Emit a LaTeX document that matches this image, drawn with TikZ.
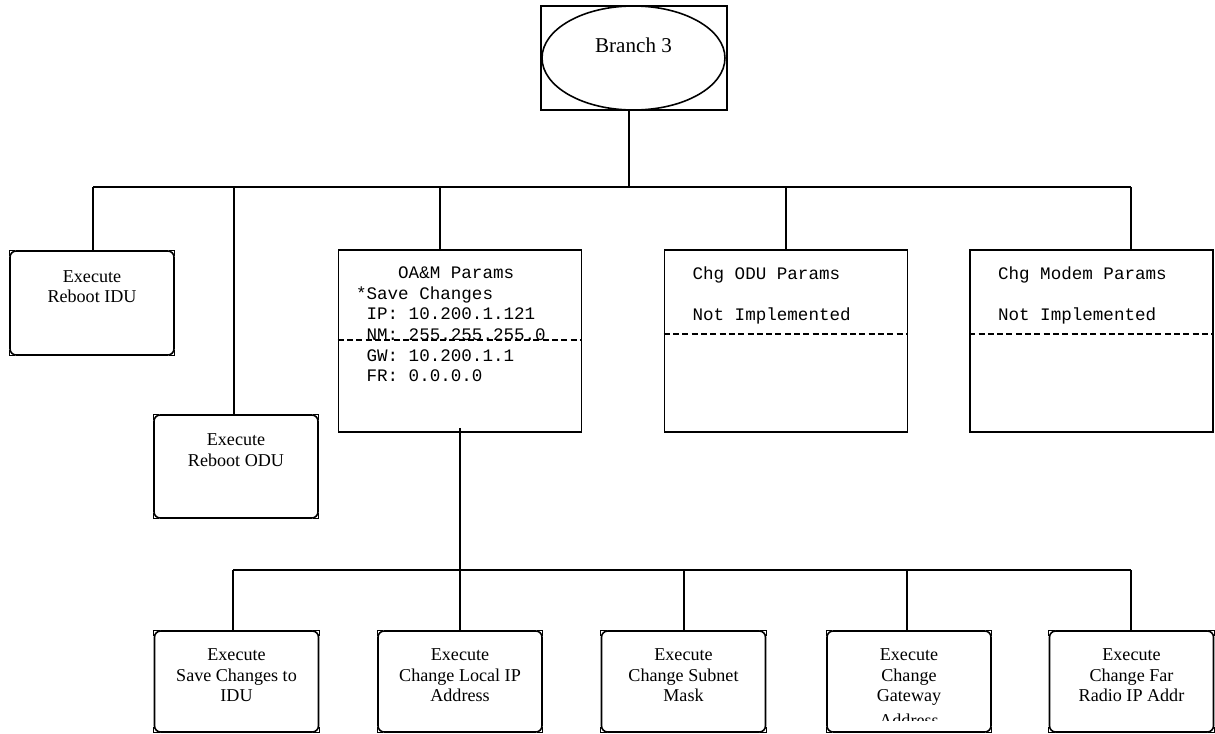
\documentclass[tikz,border=0pt]{standalone}
\usepackage{fontspec}
\setmainfont{Liberation Serif}
\setmonofont{Liberation Mono}
\usetikzlibrary{shapes.geometric, positioning}

% top aligned text inside the fixed size boxes
\newcommand{\toptext}[1]{\parbox[c][1.3cm][t]{3.1cm}{\centering\fontsize{10.3}{11.6}\selectfont #1}}
\newcommand{\montext}[1]{\parbox[c][2.98cm][t]{4.16cm}{\raggedright\ttfamily\fontsize{10}{11.8}\selectfont #1}}
\newcommand{\sk}{\hspace*{0.6em}}

\begin{document}
\begin{tikzpicture}[x=0.02cm, y=-0.02cm, line width=0.9pt,
  execbox/.style={draw, rounded corners=3.5pt, inner sep=0pt,
                  minimum width=3.28cm, minimum height=2.08cm},
  parambox/.style={draw, inner sep=0pt, minimum width=4.86cm, minimum height=3.64cm},
  branchrect/.style={draw, inner sep=0pt, minimum width=3.72cm, minimum height=2.08cm},
  branchell/.style={draw, ellipse, inner sep=0pt, minimum width=3.66cm,
                    minimum height=2.08cm, font=\fontsize{12}{14}\selectfont,
                    text height=8pt, text depth=14.8pt},
  dashline/.style={dash pattern=on 3.4pt off 1.9pt}]
  \useasboundingbox (0,0) rectangle (1215,734);

  % root
  \node[branchrect] (branchbox) at (634,58) {};
  \node[branchell] (branch) at (633.5,58) {Branch 3};

  % first level
  \node[execbox] (idu) at (92,303) {\toptext{Execute\\Reboot IDU}};
  \node[execbox, minimum height=2.06cm] (odu) at (236,466.5) {\toptext{Execute\\Reboot ODU}};
  \node[parambox] (oam) at (460,341)
    {\montext{\sk\sk\sk\sk OA\&M Params\\{}*Save Changes\\\sk IP: 10.200.1.121\\\sk NM: 255.255.255.0\\\sk GW: 10.200.1.1\\\sk FR: 0.0.0.0}};
  \node[parambox] (odup) at (786,341)
    {\montext{\sk Chg ODU Params\\[\baselineskip]\sk Not Implemented}};
  \node[parambox] (modem) at (1091.5,341)
    {\montext{\sk Chg Modem Params\\[\baselineskip]\sk Not Implemented}};

  % second level
  \node[execbox, minimum height=2.02cm] (s1) at (236.5,681.5) {\toptext{Execute\\Save Changes to\\IDU}};
  \node[execbox, minimum height=2.02cm] (s2) at (460,681.5) {\toptext{Execute\\Change Local IP\\Address}};
  \node[execbox, minimum height=2.02cm] (s3) at (683.5,681.5) {\toptext{Execute\\Change Subnet\\Mask}};
  \node[execbox, minimum height=2.02cm] (s4) at (909,681.5) {\toptext{Execute\\Change\\Gateway}};
  \node[execbox, minimum height=2.02cm] (s5) at (1131.5,681.5) {\toptext{Execute\\Change Far\\Radio IP Addr}};
  \begin{scope}
    \clip (830,705) rectangle (988,720);
    \node[font=\fontsize{10.3}{11.6}\selectfont, inner sep=0pt] (s4last) at (909,720) {Address};
  \end{scope}

  % square corner marks of the rounded boxes
  \foreach \n in {idu,odu,s1,s2,s3,s4,s5}
    \foreach \a/\sx/\sy in {north west/1/-1, north east/-1/-1, south west/1/1, south east/-1/1}
      \draw[line width=0.7pt] ([yshift=\sy*3.5pt]\n.\a) -- (\n.\a) -- ([xshift=\sx*3.5pt]\n.\a);

  % dashed dividers
  \coordinate (d1) at (0,340);
  \coordinate (d2) at (0,334);
  \draw[dashline] (oam.west |- d1) -- (oam.east |- d1);
  \draw[dashline] (odup.west |- d2) -- (odup.east |- d2);
  \draw[dashline] (modem.west |- d2) -- (modem.east |- d2);

  % upper tree
  \coordinate (t0) at (629,187);
  \coordinate (t1) at (93,187);
  \coordinate (t2) at (234,187);
  \coordinate (t3) at (440,187);
  \coordinate (t4) at (786,187);
  \coordinate (t5) at (1131,187);
  \draw (t0 |- branchbox.south) -- (t0);
  \draw (t1) -- (t5);
  \draw (t1) -- (t1 |- idu.north);
  \draw (t2) -- (t2 |- odu.north);
  \draw (t3) -- (t3 |- oam.north);
  \draw (t4) -- (t4 |- odup.north);
  \draw (t5) -- (t5 |- modem.north);

  % lower tree
  \coordinate (b1) at (233,570);
  \coordinate (b3) at (684,570);
  \coordinate (b4) at (907,570);
  \coordinate (b5) at (1131,570);
  \draw ([yshift=2.8pt]oam.south) -- (s2.north);
  \draw (b1) -- (b5);
  \draw (b1) -- (b1 |- s1.north);
  \draw (b3) -- (b3 |- s3.north);
  \draw (b4) -- (b4 |- s4.north);
  \draw (b5) -- (b5 |- s5.north);
\end{tikzpicture}
\end{document}
